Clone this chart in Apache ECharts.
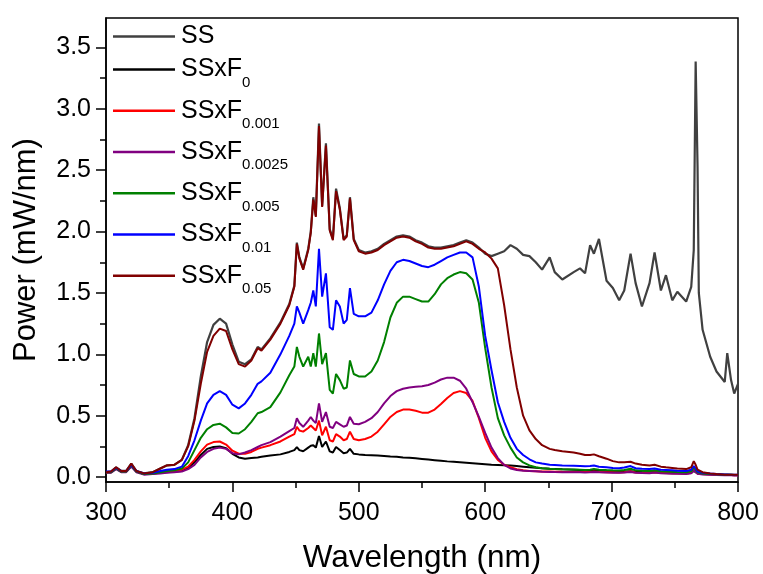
<!DOCTYPE html>
<html>
<head>
<meta charset="utf-8">
<script src="https://cdn.jsdelivr.net/npm/echarts@6/dist/echarts.min.js"></script>
<style>html,body{margin:0;padding:0;background:#fff;}#c{width:763px;height:574px;}</style>
</head>
<body>
<div id="c"></div>
<script>
// Wavelength grid (nm)
var wavelengths = [300,304,308,312,316,320,324,330,337,343,348,354,360,365,370,375,380,385,390,395,400,405,410,415,420,423,430,438,445,449,451,453,456,460,462,464,466,468.5,471,474,477,479.5,482,485,488,490.5,493,496,
500,505,510,515,520,525,530,535,540,545,550,555,560,565,570,575,580,585,590,595,600,605,610,615,620,625,630,635,640,
645,651,655,661,670,675,679,683,686,690,696,701,706,710,715,719,724,730,734,739,743,748,752,759,763,765,766.5,768,769,772,778,783,789.5,791.5,794.5,797,800];

var seriesNames = ['SS','SSxF_0','SSxF_0.001','SSxF_0.0025','SSxF_0.005','SSxF_0.01','SSxF_0.05'];
var seriesColors = ['#404040','#000000','#ff0000','#800080','#008000','#0000ff','#800000'];

var SS = [0.04,0.045,0.08,0.05,0.05,0.11,0.05,0.03,0.04,0.07,0.095,0.10,0.14,0.26,0.48,0.82,1.10,1.24,1.29,1.25,1.08,0.94,0.92,0.96,1.06,1.04,1.13,1.26,1.41,1.56,1.91,1.79,1.70,1.86,2.00,2.28,2.13,2.88,2.21,2.72,2.02,1.94,2.35,2.19,1.94,1.97,2.28,1.94,
1.85,1.83,1.84,1.86,1.90,1.93,1.96,1.97,1.96,1.93,1.91,1.88,1.87,1.87,1.88,1.89,1.91,1.93,1.91,1.87,1.82,1.80,1.82,1.84,1.89,1.86,1.81,1.80,1.75,
1.69,1.79,1.67,1.61,1.67,1.70,1.66,1.89,1.82,1.94,1.60,1.54,1.44,1.52,1.82,1.58,1.39,1.58,1.83,1.52,1.645,1.44,1.51,1.43,1.55,1.85,3.385,2.53,1.50,1.20,0.98,0.86,0.775,1.01,0.79,0.68,0.76];

var SSxF_0 = [0.04,0.04,0.07,0.045,0.045,0.09,0.045,0.025,0.03,0.035,0.04,0.045,0.05,0.075,0.12,0.18,0.23,0.245,0.25,0.235,0.19,0.16,0.15,0.155,0.16,0.165,0.175,0.185,0.205,0.22,0.245,0.22,0.21,0.24,0.255,0.26,0.24,0.335,0.245,0.29,0.21,0.20,0.245,0.22,0.195,0.20,0.23,0.19,
0.185,0.18,0.178,0.175,0.172,0.168,0.165,0.16,0.157,0.153,0.148,0.143,0.138,0.133,0.128,0.124,0.12,0.116,0.112,0.108,0.104,0.10,0.098,0.096,0.094,0.09,0.085,0.08,0.076,
0.072,0.068,0.066,0.063,0.06,0.058,0.056,0.055,0.055,0.053,0.05,0.048,0.046,0.046,0.048,0.044,0.042,0.04,0.042,0.038,0.036,0.034,0.033,0.031,0.034,0.05,0.04,0.03,0.028,0.026,0.024,0.022,0.02,0.02,0.019,0.018,0.018];

var SSxF_0001 = [0.04,0.04,0.07,0.045,0.045,0.095,0.045,0.025,0.03,0.035,0.045,0.05,0.06,0.085,0.14,0.21,0.265,0.285,0.29,0.265,0.215,0.19,0.19,0.205,0.23,0.24,0.26,0.29,0.33,0.35,0.41,0.38,0.37,0.40,0.42,0.40,0.38,0.46,0.34,0.41,0.30,0.29,0.35,0.33,0.30,0.31,0.37,0.31,
0.30,0.31,0.33,0.37,0.43,0.49,0.53,0.55,0.55,0.54,0.525,0.525,0.55,0.595,0.645,0.685,0.70,0.685,0.62,0.48,0.32,0.21,0.14,0.10,0.08,0.065,0.055,0.05,0.048,
0.046,0.045,0.044,0.043,0.042,0.042,0.041,0.042,0.045,0.042,0.04,0.039,0.038,0.04,0.045,0.038,0.036,0.035,0.04,0.034,0.033,0.031,0.03,0.029,0.035,0.06,0.045,0.03,0.027,0.025,0.022,0.02,0.018,0.018,0.017,0.016,0.016];

var SSxF_00025 = [0.035,0.035,0.065,0.04,0.04,0.085,0.04,0.02,0.025,0.03,0.035,0.04,0.045,0.065,0.10,0.16,0.205,0.23,0.24,0.23,0.195,0.185,0.20,0.22,0.245,0.26,0.285,0.33,0.375,0.40,0.48,0.44,0.41,0.46,0.49,0.46,0.44,0.60,0.45,0.53,0.41,0.40,0.45,0.43,0.41,0.42,0.49,0.435,
0.43,0.45,0.48,0.53,0.60,0.66,0.70,0.72,0.73,0.735,0.74,0.75,0.77,0.795,0.81,0.81,0.785,0.72,0.61,0.49,0.36,0.24,0.155,0.10,0.07,0.058,0.052,0.05,0.048,
0.043,0.042,0.041,0.04,0.039,0.039,0.038,0.039,0.042,0.039,0.037,0.036,0.035,0.037,0.042,0.035,0.033,0.032,0.037,0.031,0.03,0.028,0.027,0.026,0.032,0.056,0.042,0.027,0.024,0.022,0.019,0.017,0.015,0.015,0.014,0.013,0.013];

var SSxF_0005 = [0.04,0.04,0.07,0.045,0.045,0.095,0.045,0.025,0.03,0.04,0.05,0.055,0.07,0.12,0.22,0.32,0.39,0.425,0.435,0.405,0.36,0.355,0.39,0.45,0.52,0.53,0.57,0.69,0.83,0.90,1.06,0.98,0.90,0.98,0.90,1.01,0.90,1.17,0.92,1.01,0.71,0.68,0.84,0.79,0.72,0.73,0.95,0.84,
0.82,0.82,0.86,0.95,1.10,1.30,1.42,1.47,1.47,1.45,1.43,1.43,1.49,1.57,1.62,1.65,1.67,1.66,1.61,1.42,1.05,0.73,0.48,0.34,0.24,0.16,0.12,0.095,0.08,
0.072,0.068,0.066,0.064,0.062,0.06,0.058,0.06,0.065,0.06,0.057,0.055,0.054,0.058,0.068,0.055,0.052,0.05,0.056,0.048,0.046,0.044,0.042,0.04,0.048,0.08,0.06,0.04,0.034,0.03,0.026,0.023,0.02,0.02,0.019,0.018,0.018];

var SSxF_001 = [0.045,0.045,0.075,0.05,0.05,0.10,0.05,0.03,0.035,0.05,0.06,0.065,0.085,0.17,0.30,0.46,0.60,0.67,0.70,0.67,0.59,0.56,0.60,0.67,0.76,0.78,0.85,1.00,1.15,1.25,1.39,1.34,1.25,1.36,1.42,1.52,1.39,1.86,1.47,1.66,1.22,1.20,1.44,1.39,1.25,1.28,1.54,1.33,
1.31,1.31,1.34,1.44,1.57,1.68,1.75,1.77,1.76,1.74,1.72,1.71,1.73,1.76,1.79,1.81,1.83,1.83,1.79,1.55,1.15,0.87,0.61,0.45,0.32,0.23,0.18,0.145,0.12,
0.11,0.10,0.098,0.095,0.092,0.09,0.088,0.09,0.095,0.085,0.08,0.075,0.072,0.078,0.09,0.072,0.068,0.065,0.07,0.06,0.058,0.055,0.052,0.05,0.06,0.09,0.07,0.045,0.04,0.035,0.03,0.026,0.022,0.022,0.02,0.02,0.019];

var SSxF_005 = [0.04,0.045,0.08,0.05,0.05,0.11,0.05,0.03,0.04,0.07,0.095,0.10,0.14,0.25,0.46,0.76,1.02,1.15,1.21,1.19,1.04,0.92,0.90,0.95,1.05,1.03,1.12,1.25,1.40,1.55,1.90,1.78,1.69,1.85,1.99,2.26,2.12,2.86,2.20,2.70,2.01,1.93,2.33,2.18,1.93,1.96,2.27,1.93,
1.84,1.82,1.83,1.85,1.89,1.92,1.95,1.96,1.95,1.92,1.90,1.87,1.86,1.86,1.87,1.88,1.90,1.92,1.90,1.86,1.83,1.78,1.70,1.40,1.04,0.73,0.50,0.38,0.31,
0.26,0.23,0.22,0.21,0.20,0.19,0.18,0.18,0.185,0.17,0.15,0.13,0.12,0.12,0.125,0.11,0.10,0.095,0.10,0.085,0.08,0.075,0.07,0.065,0.08,0.13,0.10,0.06,0.05,0.04,0.03,0.025,0.02,0.02,0.02,0.02,0.02];

var seriesValues = [SS, SSxF_0, SSxF_0001, SSxF_00025, SSxF_0005, SSxF_001, SSxF_005];

var yLabelValues = [0,0.5,1,1.5,2,2.5,3,3.5];
var yMinorValues = [0.25,0.75,1.25,1.75,2.25,2.75,3.25,3.75];

var FONT = '"Liberation Sans", Arial, sans-serif';

var chart = echarts.init(document.getElementById('c'), null, {renderer:'canvas'});

var series = seriesNames.map(function(name, k){
  return {
    name: name,
    type: 'line',
    showSymbol: false,
    symbol: 'none',
    animation: false,
    color: seriesColors[k],
    lineStyle: {color: seriesColors[k], width: k === 0 ? 2.2 : 2},
    data: wavelengths.map(function(w, i){ return [w, seriesValues[k][i]]; })
  };
});

chart.setOption({
  animation: false,
  backgroundColor: '#fff',
  grid: {left: 106, right: 25, top: 18, bottom: 92, show: true, borderColor: '#000', borderWidth: 1.5, backgroundColor: 'transparent', outerBoundsMode: 'none', containLabel: false},
  legend: {
    orient: 'vertical',
    left: 113,
    top: 24,
    padding: 0,
    itemGap: 8,
    itemWidth: 62,
    itemHeight: 2.5,
    icon: 'rect',
    selectedMode: false,
    data: seriesNames,
    formatter: function(name){
      var p = name.split('_');
      if (p.length === 1) return '{c|' + p[0] + '}';
      return '{a|' + p[0] + '}{b|' + p[1] + '}';
    },
    textStyle: {
      color: '#000',
      fontFamily: FONT,
      rich: {
        a: {fontSize: 25, lineHeight: 41.5, fontFamily: FONT, color: '#000', padding: [0,0,0,1]},
        b: {fontSize: 15, lineHeight: 13, verticalAlign: 'bottom', fontFamily: FONT, color: '#000'},
        c: {fontSize: 25, lineHeight: 23, fontFamily: FONT, color: '#000', padding: [0,0,0,1]}
      }
    }
  },
  xAxis: [{
    type: 'value',
    min: 300, max: 800, interval: 100,
    name: 'Wavelength (nm)',
    nameLocation: 'middle',
    nameGap: 60,
    nameTextStyle: {fontSize: 31.5, fontFamily: FONT, color: '#000'},
    axisLine: {show: true, onZero: false, lineStyle: {color: '#000', width: 1.5}},
    axisTick: {show: true, inside: false, length: 10, lineStyle: {color: '#000', width: 1.5}},
    minorTick: {show: true, splitNumber: 2, length: 6, lineStyle: {color: '#000', width: 1.5}},
    axisLabel: {fontSize: 25, fontFamily: FONT, color: '#000', margin: 19},
    splitLine: {show: false}, minorSplitLine: {show: false}
  }],
  yAxis: [{
    type: 'value',
    min: -0.04, max: 3.74,
    name: 'Power (mW/nm)',
    nameLocation: 'middle',
    nameGap: 64,
    nameTextStyle: {fontSize: 31, fontFamily: FONT, color: '#000'},
    axisLine: {show: true, onZero: false, lineStyle: {color: '#000', width: 1.5}},
    axisTick: {show: true, length: 10, customValues: yLabelValues, lineStyle: {color: '#000', width: 1.5}},
    axisLabel: {fontSize: 25, fontFamily: FONT, color: '#000', margin: 15, customValues: yLabelValues,
      formatter: function(v){ return (Math.round(v*10)/10).toFixed(1); }},
    splitLine: {show: false}
  },{
    type: 'value',
    min: -0.04, max: 3.74,
    position: 'left',
    axisLine: {show: false},
    axisTick: {show: true, length: 6, customValues: yMinorValues, lineStyle: {color: '#000', width: 1.5}},
    axisLabel: {show: false},
    splitLine: {show: false}
  }],
  series: series
});
</script>
</body>
</html>
